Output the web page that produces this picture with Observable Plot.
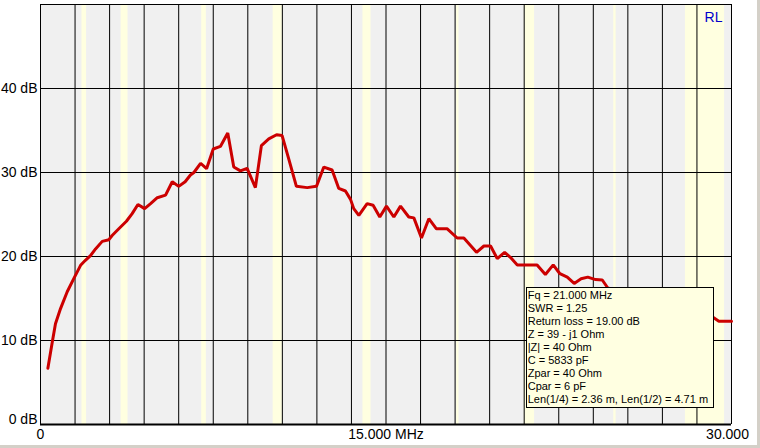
<!DOCTYPE html>
<html>
<head>
<meta charset="utf-8">
<script src="https://cdn.jsdelivr.net/npm/d3@7"></script>
<script src="https://cdn.jsdelivr.net/npm/@observablehq/plot@0.6"></script>
<style>
  html, body { margin: 0; padding: 0; background: #ffffff; }
  #wrap { position: relative; width: 757px; height: 445px; border-right: 3px solid #d4d0c8; border-bottom: 3px solid #d4d0c8; overflow: hidden; }
  #wrap svg { display: block; }
  #info { position: absolute; box-sizing: border-box; width: 188px; border: 1px solid #000; background: #ffffe1;
          font: 11px "Liberation Sans", Arial, sans-serif; line-height: 13px; padding: 1px; color: #000; white-space: nowrap; }
</style>
</head>
<body>
<div id="wrap"></div>
<script>
// Frequency (MHz) and return loss (dB)
const freq = [0.32,0.51,0.65,0.87,1.16,1.45,1.74,1.95,2.17,2.39,2.68,2.97,3.11,3.40,3.73,3.98,4.23,4.52,4.78,5.07,5.43,5.72,6.00,6.28,6.51,6.66,6.95,7.21,7.50,7.81,8.13,8.39,8.68,8.97,9.33,9.59,9.91,10.25,10.49,10.78,11.11,11.58,11.98,12.30,12.66,12.95,13.24,13.46,13.60,13.82,14.18,14.44,14.73,15.02,15.34,15.63,15.99,16.21,16.54,16.86,17.19,17.66,18.09,18.38,18.93,19.25,19.54,19.83,20.15,20.41,20.70,20.98,21.56,21.92,22.26,22.55,22.87,23.17,23.47,23.76,24.10,24.39,24.63,25.30,26.20,27.10,28.00,28.80,29.23,29.45,30.00];
const returnLoss = [6.7,9.8,12.0,13.8,15.8,17.4,18.95,19.55,20.1,20.9,21.8,22.0,22.5,23.3,24.2,25.1,26.2,25.7,26.3,27.0,27.3,28.9,28.35,28.9,29.7,30.0,31.1,30.45,32.8,33.1,34.7,30.65,30.2,30.5,28.2,33.2,34.0,34.5,34.4,31.6,28.35,28.2,28.35,30.65,30.3,28.1,27.8,26.8,25.7,24.9,26.3,26.1,24.7,26.0,24.7,26.0,24.7,24.6,22.2,24.5,23.3,23.3,22.2,22.2,20.5,21.25,21.25,19.75,20.5,19.87,19.0,19.0,19.0,17.85,19.0,17.95,17.55,16.8,17.35,17.55,17.25,17.2,16.25,15.6,14.8,14.1,13.5,13.0,12.7,12.3,12.3];

// Amateur bands shaded in the background (MHz)
const bandStart = [1.8, 3.5, 7.0, 10.1, 14.0, 18.068, 21.0, 24.89, 28.0];
const bandEnd   = [2.0, 3.8, 7.2, 10.5, 14.35, 18.168, 21.45, 24.99, 29.7];

// Grid and tick labels
const xGrid = [0,1.5,3,4.5,6,7.5,9,10.5,12,13.5,15,16.5,18,19.5,21,22.5,24,25.5,27,28.5,30];
const yTicks = [0, 10, 20, 30, 40];
const yTickLabels = ["0 dB", "10 dB", "20 dB", "30 dB", "40 dB"];
const xTicks = [0, 15, 30];
const xTickLabels = ["0", "15.000 MHz", "30.000"];

// Marker readout
const markerFreq = 21.0;
const markerRL = 19.0;
const infoLines = [
  "Fq = 21.000 MHz",
  "SWR = 1.25",
  "Return loss = 19.00 dB",
  "Z = 39 - j1 Ohm",
  "|Z| = 40 Ohm",
  "C = 5833 pF",
  "Zpar = 40 Ohm",
  "Cpar = 6 pF",
  "Len(1/4) = 2.36 m, Len(1/2) = 4.71 m"
];

const curve = freq.map((f, i) => ({f, rl: returnLoss[i]}));
const bands = bandStart.map((s, i) => ({s, e: bandEnd[i]}));
const yLab = yTicks.map((v, i) => ({v, t: yTickLabels[i]}));
const xLab = xTicks.map((v, i) => ({v, t: xTickLabels[i]}));

const font = "'Liberation Sans', Arial, sans-serif";

const chart = Plot.plot({
  width: 757,
  height: 445,
  marginLeft: 40,
  marginRight: 26,
  marginTop: 4,
  marginBottom: 21,
  style: {background: "#ffffff", fontFamily: font, fontSize: "14px", color: "#000"},
  x: {domain: [0, 30], axis: null},
  y: {domain: [0, 50], axis: null},
  marks: [
    Plot.frame({fill: "#f0f0f0", stroke: null}),
    Plot.rect(bands, {x1: "s", x2: "e", fill: "#ffffe0"}),
    Plot.ruleX(xGrid, {stroke: "#000", strokeWidth: 1}),
    Plot.ruleY([10, 20, 30, 40, 50], {stroke: "#000", strokeWidth: 1}),
    Plot.ruleY([0], {stroke: "#000", strokeWidth: 2}),
    Plot.text(yLab.filter(d => d.v > 0), {x: 0, y: "v", text: "t", textAnchor: "end", dx: -3, fontSize: 14, fill: "#000"}),
    Plot.text(yLab.filter(d => d.v === 0), {x: 0, y: "v", text: "t", textAnchor: "end", dx: -3, dy: -5, fontSize: 14, fill: "#000"}),
    Plot.text(xLab.filter(d => d.v < 30), {x: "v", y: 0, text: "t", lineAnchor: "top", dy: 5, fontSize: 14, fill: "#000"}),
    Plot.text(xLab.filter(d => d.v === 30), {x: "v", y: 0, text: "t", lineAnchor: "top", dy: 5, dx: -4, fontSize: 14, fill: "#000"}),
    Plot.text(["RL"], {frameAnchor: "top-right", textAnchor: "end", lineAnchor: "top", dx: -9, dy: 8, fontSize: 14, fill: "#0000cc"}),
    Plot.line(curve, {x: "f", y: "rl", stroke: "#cc0000", strokeWidth: 3, strokeLinejoin: "miter", curve: "linear"})
  ]
});

const wrap = document.getElementById("wrap");
wrap.appendChild(chart);

const info = document.createElement("div");
info.id = "info";
info.innerHTML = infoLines.map(s => `<div>${s.replace(/&/g,"&amp;").replace(/</g,"&lt;")}</div>`).join("");
const sx = chart.scale("x"), sy = chart.scale("y");
info.style.left = (sx.apply(markerFreq) + 2) + "px";
info.style.top = (sy.apply(markerRL) + 23) + "px";
wrap.appendChild(info);
</script>
</body>
</html>
